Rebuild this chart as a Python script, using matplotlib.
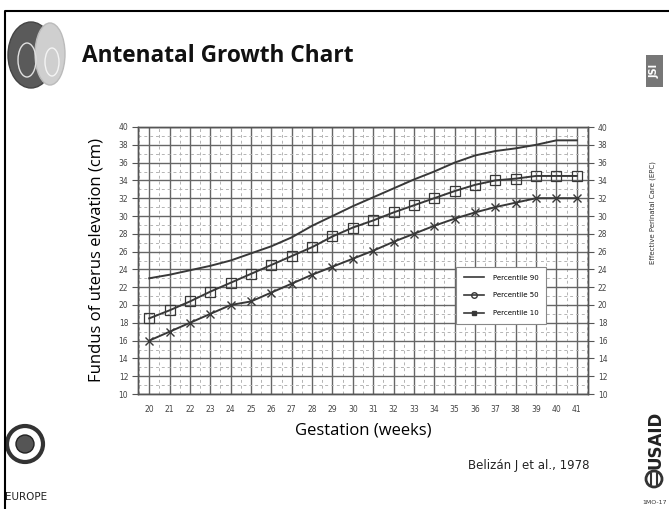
import numpy as np
import matplotlib.pyplot as plt
from matplotlib.patches import Ellipse, Circle, Rectangle
from matplotlib.lines import Line2D

# -------------------------
# DATA
# -------------------------
weeks = np.arange(20, 42)

p90 = [23.0, 23.4, 23.9, 24.4, 25.0, 25.8, 26.6, 27.6, 28.9, 30.0, 31.1, 32.1,
       33.1, 34.1, 35.0, 36.0, 36.8, 37.3, 37.6, 38.0, 38.5, 38.5]
p50 = [18.5, 19.4, 20.4, 21.5, 22.5, 23.5, 24.5, 25.5, 26.5, 27.7, 28.7, 29.5,
       30.4, 31.2, 32.0, 32.8, 33.5, 34.0, 34.2, 34.5, 34.5, 34.5]
p10 = [16.0, 17.0, 18.0, 19.0, 20.0, 20.4, 21.4, 22.4, 23.4, 24.3, 25.2, 26.1,
       27.1, 28.0, 28.9, 29.7, 30.4, 31.0, 31.5, 32.0, 32.0, 32.0]

y_ticks = np.arange(10, 41, 2)

W, H = 669, 509
line_col = "#383838"
major_col = "#666666"
minor_col = "#b4b4b4"

fig = plt.figure(figsize=(W / 100, H / 100), dpi=100)

# background "slide" layer in pixel coordinates
bg = fig.add_axes([0, 0, 1, 1])
bg.set_xlim(0, W)
bg.set_ylim(H, 0)
bg.axis("off")

# slide frame
bg.plot([5, 5, W], [H, 11, 11], color="black", lw=1.5)

# top-left logo (two ovals)
bg.add_patch(Ellipse((31, 55), 46, 66, facecolor="#5a5a5a", edgecolor="#444444"))
bg.add_patch(Ellipse((50, 54), 30, 62, facecolor="#cfcfcf", edgecolor="#bbbbbb"))
bg.add_patch(Ellipse((27, 60), 18, 34, facecolor="none", edgecolor="#e0e0e0", lw=1))
bg.add_patch(Ellipse((52, 62), 14, 28, facecolor="none", edgecolor="#f4f4f4", lw=1))

bg.text(82, 56, "Antenatal Growth Chart", fontsize=16.3, fontweight="bold",
        family="Open Sans", va="center", ha="left", color="#111111")

# JSI box
bg.add_patch(Rectangle((646, 55), 17, 32, facecolor="#777777", edgecolor="none"))
bg.text(654.5, 71, "JSI", rotation=90, color="white", fontsize=7, fontweight="bold",
        ha="center", va="center")

bg.text(653, 213, "Effective Perinatal Care (EPC)", rotation=90, fontsize=5,
        ha="center", va="center", color="#333333")

# USAID
bg.text(655, 440, "USAID", rotation=90, fontsize=12, fontweight="bold",
        ha="center", va="center", color="#222222")
bg.add_patch(Circle((654, 479), 8, facecolor="none", edgecolor="#333333", lw=2))
bg.plot([651, 651], [474, 484], color="#333333", lw=1.5)
bg.plot([657, 657], [474, 484], color="#333333", lw=1.5)
bg.text(655, 503, "1MO-17", fontsize=4.5, ha="center", va="center", color="#333333")

# WHO logo
bg.add_patch(Circle((25, 444), 18, facecolor="none", edgecolor="#333333", lw=3))
bg.add_patch(Circle((25, 444), 9, facecolor="#555555", edgecolor="#222222", lw=1))
bg.text(26, 497, "EUROPE", fontsize=7.5, ha="center", va="center", color="#222222")

bg.text(529, 466, "Belizán J et al., 1978", fontsize=8.5, ha="center", va="center",
        color="#222222")

# -------------------------
# CHART
# -------------------------
ax = fig.add_axes([138 / W, 1 - 394 / H, (588 - 138) / W, (394 - 127) / H])
ax.set_xlim(19.45, 41.55)
ax.set_ylim(10, 40)

# grid: dark at weeks / even cm, light dashed between
for w in weeks:
    ax.axvline(w, color=major_col, lw=1.0, zorder=1)
    ax.axvline(w + 0.5, color=minor_col, lw=0.7, ls=(0, (3, 3)), zorder=1)
ax.axvline(19.5, color=minor_col, lw=0.7, ls=(0, (3, 3)), zorder=1)
for v in y_ticks:
    ax.axhline(v, color=major_col, lw=1.0, zorder=1)
    if v < 40:
        ax.axhline(v + 1, color=minor_col, lw=0.7, ls=(0, (3, 3)), zorder=1)

ax.plot(weeks, p90, color=line_col, lw=1.4, zorder=3)
ax.plot(weeks, p50, color=line_col, lw=1.4, marker="s", ms=6.5, mfc="none",
        mec=line_col, mew=0.9, zorder=3)
ax.plot(weeks, p10, color=line_col, lw=1.4, marker="x", ms=5.5, mew=1.0, zorder=3)

ax.set_xticks(weeks)
ax.set_xticklabels([str(w) for w in weeks], fontsize=5.5, color="#444444")
ax.set_yticks(y_ticks)
ax.set_yticklabels([str(v) for v in y_ticks], fontsize=5.5, color="#444444")
ax.tick_params(axis="x", length=0, pad=8)
ax.tick_params(axis="y", length=4, width=0.8, color="#555555", pad=3)

ax2 = ax.twinx()
ax2.set_ylim(10, 40)
ax2.set_yticks(y_ticks)
ax2.set_yticklabels([str(v) for v in y_ticks], fontsize=5.5, color="#444444")
ax2.tick_params(axis="y", length=4, width=0.8, color="#555555", pad=3)

for a in (ax, ax2):
    for s in a.spines.values():
        s.set_color("#555555")
        s.set_linewidth(1.0)

ax.set_xlabel("Gestation (weeks)", fontsize=12, family="Open Sans", labelpad=6)
ax.set_ylabel("Fundus of uterus elevation (cm)", fontsize=12, family="Open Sans",
              labelpad=10)

handles = [
    Line2D([0], [0], color=line_col, lw=1.2),
    Line2D([0], [0], color=line_col, lw=1.2, marker="o", ms=4, mfc="none"),
    Line2D([0], [0], color=line_col, lw=1.2, marker="s", ms=3),
]
leg = ax2.legend(handles, ["Percentile 90", "Percentile 50", "Percentile 10"],
                 loc="upper left", bbox_to_anchor=((456 - 138) / 450, 1 - (267 - 127) / 267),
                 fontsize=5, frameon=True, fancybox=False, edgecolor="#888888",
                 framealpha=1, borderpad=1.1, labelspacing=1.7, handlelength=2.9,
                 handletextpad=1.3, borderaxespad=0)
leg.get_frame().set_linewidth(0.8)
leg.set_zorder(5)

fig.savefig("out.png", dpi=100)
